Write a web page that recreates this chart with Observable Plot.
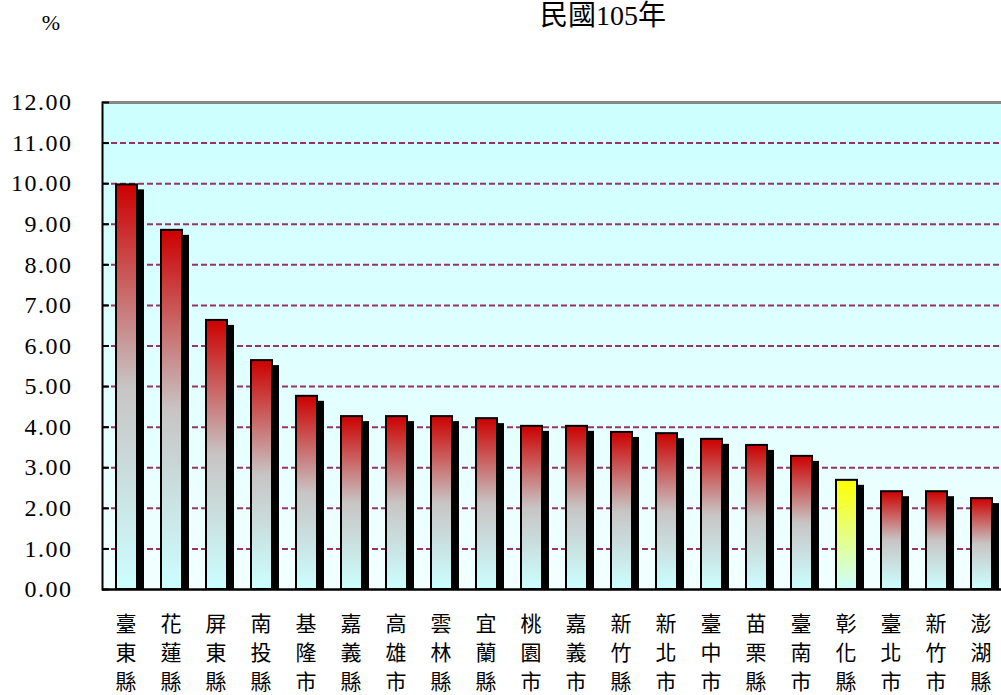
<!DOCTYPE html>
<html>
<head>
<meta charset="utf-8">
<script src="https://cdn.jsdelivr.net/npm/d3@7"></script>
<script src="https://cdn.jsdelivr.net/npm/@observablehq/plot@0.6"></script>
<style>
  html, body { margin: 0; padding: 0; background: #fff; }
  #wrap { position: relative; width: 1001px; height: 695px; overflow: hidden; }
  .lbl { position: absolute; font-family: "Liberation Serif", "Noto Sans CJK TC", serif; color: #000; white-space: nowrap; line-height: 1; }
  #title { font-size: 28px; left: 503px; width: 200px; text-align: center; top: 0px; line-height: 32px; }
  #pct { font-size: 22px; left: 31px; width: 40px; text-align: center; top: 12px; }
  g[aria-label="shadow"] { filter: url(#blur); }
  g[aria-label="y-axis tick label"] text { letter-spacing: 1.5px; }
</style>
</head>
<body>
<div id="wrap">
  <div id="chart"></div>
  <div id="title" class="lbl">民國105年</div>
  <div id="pct" class="lbl">%</div>
</div>
<script>
const categories = ["臺東縣","花蓮縣","屏東縣","南投縣","基隆市","嘉義縣","高雄市","雲林縣","宜蘭縣","桃園市","嘉義市","新竹縣","新北市","臺中市","苗栗縣","臺南市","彰化縣","臺北市","新竹市","澎湖縣"];
const values = [9.97, 8.85, 6.63, 5.64, 4.76, 4.26, 4.26, 4.26, 4.21, 4.02, 4.02, 3.87, 3.84, 3.70, 3.55, 3.28, 2.69, 2.41, 2.41, 2.24];
const highlight = ["彰化縣"];
const yTicks = [0,1,2,3,4,5,6,7,8,9,10,11,12];
const gridTicks = [1,2,3,4,5,6,7,8,9,10,11];

const data = categories.map((name, i) => ({name, value: values[i]}));
const redData = data.filter(d => !highlight.includes(d.name));
const yellowData = data.filter(d => highlight.includes(d.name));

function defsMark(index, scales, values, dimensions, context) {
  const doc = context && context.document ? context.document : document;
  const g = doc.createElementNS("http://www.w3.org/2000/svg", "g");
  g.innerHTML = `<defs>
    <linearGradient id="bg" x1="0" y1="0" x2="0" y2="1">
      <stop offset="0" stop-color="#ccffff"/>
      <stop offset="1" stop-color="#f2ffff"/>
    </linearGradient>
    <linearGradient id="gr" x1="0" y1="0" x2="0" y2="1">
      <stop offset="0" stop-color="#cc0000"/>
      <stop offset="0.5" stop-color="#c8c4c4"/>
      <stop offset="1" stop-color="#ccffff"/>
    </linearGradient>
    <linearGradient id="gy" x1="0" y1="0" x2="0" y2="1">
      <stop offset="0" stop-color="#ffff00"/>
      <stop offset="1" stop-color="#ccffff"/>
    </linearGradient>
    <filter id="blur" x="-20%" y="-5%" width="140%" height="110%">
      <feGaussianBlur stdDeviation="0.7"/>
    </filter>
  </defs>`;
  return g;
}

const barOpts = {x: "name", y: "value", insetLeft: 13, insetRight: 11};

const chart = Plot.plot({
  width: 1001,
  height: 695,
  marginTop: 102,
  marginBottom: 106,
  marginLeft: 102,
  marginRight: -2,
  x: {domain: categories, padding: 0, label: null},
  y: {domain: [0, 12], label: null},
  style: {fontFamily: "'Liberation Serif','Noto Sans CJK TC',serif", background: "transparent", color: "#000"},
  marks: [
    defsMark,
    Plot.frame({fill: "url(#bg)"}),
    Plot.ruleY(gridTicks, {stroke: "#993366", strokeWidth: 2, strokeDasharray: "6,3"}),
    Plot.frame({stroke: "#000", strokeWidth: 2}),
    Plot.ruleY([12], {stroke: "#8c8c8c", strokeWidth: 2}),
    Plot.tickY(yTicks, {y: d => d, stroke: "#000", strokeWidth: 2, insetRight: 894}),
    Plot.barY(data, {...barOpts, fill: "#000", dx: 7, insetTop: 5, ariaLabel: "shadow"}),
    Plot.barY(redData, {...barOpts, fill: "url(#gr)", stroke: "#000", strokeWidth: 2}),
    Plot.barY(yellowData, {...barOpts, fill: "url(#gy)", stroke: "#000", strokeWidth: 2}),
    Plot.ruleY([0], {stroke: "#000", strokeWidth: 2}),
    Plot.axisY(yTicks, {tickSize: 0, tickPadding: 30, tickFormat: d => d.toFixed(2), fontSize: 24, label: null}),
    Plot.axisX({tickSize: 0, tickPadding: 21, tickFormat: d => d.split("").join("\n"), lineHeight: 1.38, fontSize: 21, label: null})
  ]
});
document.getElementById("chart").appendChild(chart);
</script>
</body>
</html>
